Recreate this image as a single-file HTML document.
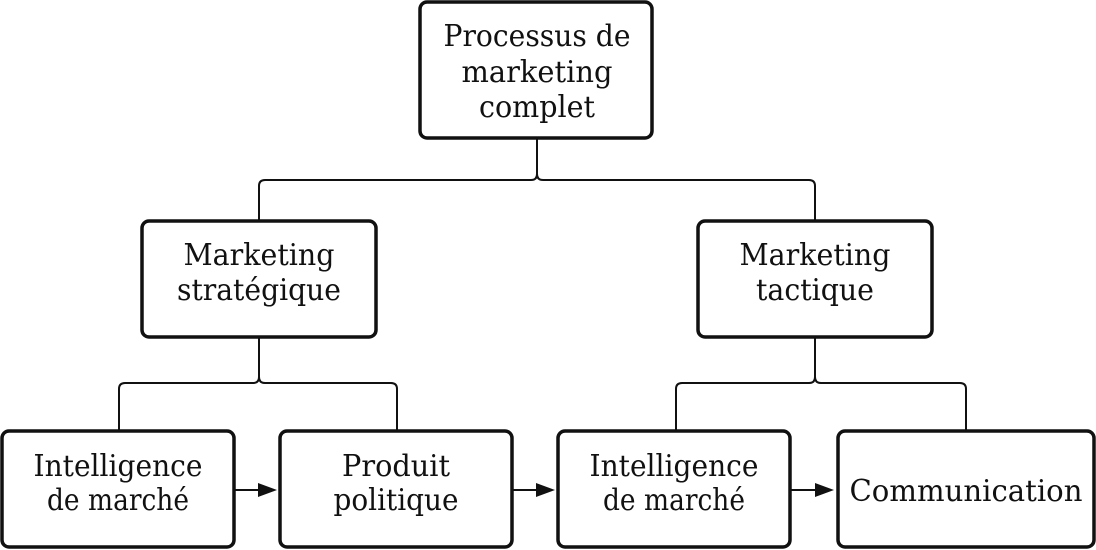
<!DOCTYPE html>
<html><head><meta charset="utf-8"><style>
html,body{margin:0;padding:0;background:#fff;}
svg{display:block;}
text{font-family:"DejaVu Serif","Liberation Serif",serif;font-size:30px;fill:#111;text-anchor:middle;}
</style></head><body>
<svg width="1096" height="550" viewBox="0 0 1096 550">
<g fill="none" stroke="#111" stroke-width="2">
<path d="M537 138 V174 Q537 180 531 180 H265 Q259 180 259 186 V221"/>
<path d="M537 174 Q537 180 543 180 H809 Q815 180 815 186 V221"/>
<path d="M259 337 V377 Q259 383 253 383 H125 Q119 383 119 389 V431"/>
<path d="M259 377 Q259 383 265 383 H391 Q397 383 397 389 V431"/>
<path d="M815 337 V377 Q815 383 809 383 H682 Q676 383 676 389 V431"/>
<path d="M815 377 Q815 383 821 383 H960 Q966 383 966 389 V431"/>
<path d="M234 490 H260 M512 490 H538 M790 490 H817"/>
</g>
<g fill="#111">
<path d="M258 483 L277 490 L258 497 Z"/>
<path d="M536 483 L555 490 L536 497 Z"/>
<path d="M815 483 L834 490 L815 497 Z"/>
</g>
<g fill="#fff" stroke="#111" stroke-width="3.5">
<rect x="420" y="2" width="232" height="136" rx="7"/>
<rect x="142" y="221" width="234" height="116" rx="7"/>
<rect x="698" y="221" width="234" height="116" rx="7"/>
<rect x="2" y="431" width="232" height="116" rx="7"/>
<rect x="280" y="431" width="232" height="116" rx="7"/>
<rect x="558" y="431" width="232" height="116" rx="7"/>
<rect x="838" y="431" width="256" height="116" rx="7"/>
</g>
<text x="537" y="46" textLength="187" lengthAdjust="spacingAndGlyphs">Processus de</text>
<text x="537" y="82" textLength="151" lengthAdjust="spacingAndGlyphs">marketing</text>
<text x="537" y="117" textLength="116" lengthAdjust="spacingAndGlyphs">complet</text>
<text x="259" y="265" textLength="151" lengthAdjust="spacingAndGlyphs">Marketing</text>
<text x="259" y="300" textLength="164" lengthAdjust="spacingAndGlyphs">stratégique</text>
<text x="815" y="265" textLength="151" lengthAdjust="spacingAndGlyphs">Marketing</text>
<text x="815" y="300" textLength="118" lengthAdjust="spacingAndGlyphs">tactique</text>
<text x="118" y="476" textLength="169" lengthAdjust="spacingAndGlyphs">Intelligence</text>
<text x="118" y="510" textLength="142" lengthAdjust="spacingAndGlyphs">de marché</text>
<text x="396" y="476" textLength="108" lengthAdjust="spacingAndGlyphs">Produit</text>
<text x="396" y="510" textLength="125" lengthAdjust="spacingAndGlyphs">politique</text>
<text x="674" y="476" textLength="169" lengthAdjust="spacingAndGlyphs">Intelligence</text>
<text x="674" y="510" textLength="142" lengthAdjust="spacingAndGlyphs">de marché</text>
<text x="966" y="501" textLength="233" lengthAdjust="spacingAndGlyphs">Communication</text>
</svg>
</body></html>
